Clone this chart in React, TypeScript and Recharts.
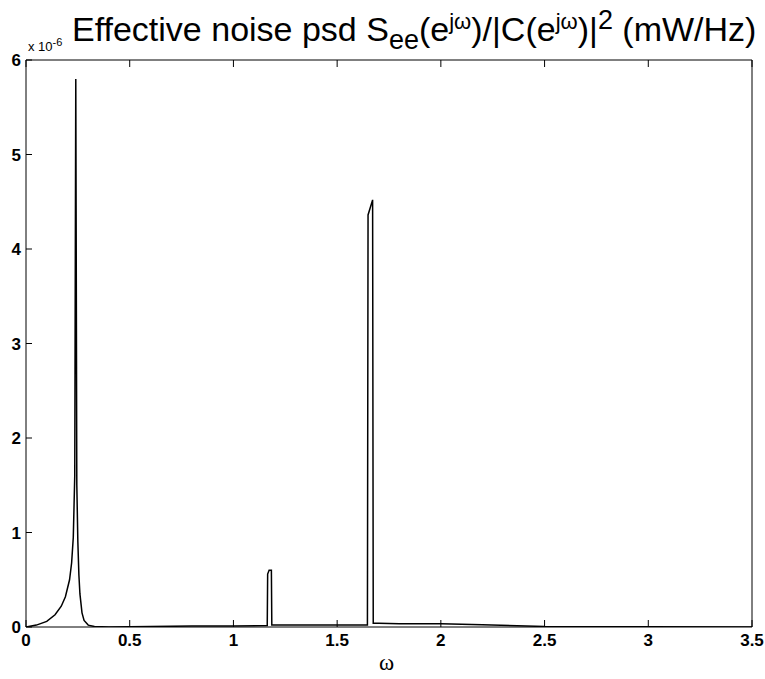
import { LineChart, Line, XAxis, YAxis } from "recharts";

// omega (rad/sample) and effective noise psd (x 1e-6 mW/Hz)
const omega = [
  0, 0.05, 0.1, 0.14, 0.17, 0.19, 0.21, 0.22, 0.228, 0.235, 0.24, 0.245, 0.25, 0.255, 0.26, 0.27, 0.28, 0.3, 0.33, 0.4,
  0.6, 0.8, 1.0, 1.163, 1.165, 1.172, 1.183, 1.185, 1.2, 1.4, 1.6, 1.646, 1.649, 1.671, 1.674, 1.7, 1.8, 2.0, 2.2, 2.5,
  3.0, 3.5,
];
const psd = [
  0, 0.02, 0.06, 0.13, 0.22, 0.32, 0.5, 0.68, 0.95, 1.6, 5.8, 1.5, 0.9, 0.55, 0.35, 0.15, 0.07, 0.02, 0.005, 0,
  0.005, 0.01, 0.01, 0.015, 0.56, 0.6, 0.6, 0.02, 0.02, 0.02, 0.02, 0.02, 4.36, 4.52, 0.04, 0.04, 0.035, 0.035, 0.025, 0.005,
  0.002, 0,
];
const xTicks = [0, 0.5, 1, 1.5, 2, 2.5, 3, 3.5];
const yTicks = [0, 1, 2, 3, 4, 5, 6];

const data = omega.map((w, i) => ({ w, v: psd[i] }));

const tickStyle = { fill: "#000", fontSize: 17, fontWeight: 600, fontFamily: "Liberation Sans, Arial, sans-serif" };

export default function App() {
  return (
    <div style={{ position: "absolute", left: 0, top: 0, width: 765, height: 679, background: "#fff" }}>
      <LineChart width={765} height={679} data={data} margin={{ top: 59, right: 12, left: 0, bottom: 0 }}>
        <XAxis
          dataKey="w"
          type="number"
          domain={[0, 3.5]}
          ticks={xTicks}
          tickSize={-7}
          tickMargin={14}
          height={52}
          stroke="#000"
          tick={tickStyle}
          xAxisId="b"
          allowDataOverflow
        />
        <XAxis
          dataKey="w"
          type="number"
          domain={[0, 3.5]}
          ticks={xTicks}
          orientation="top"
          tickSize={-7}
          tickFormatter={() => ""}
          height={1}
          stroke="#000"
          xAxisId="t"
        />
        <YAxis
          type="number"
          domain={[0, 6]}
          ticks={yTicks}
          tickSize={-6}
          tickMargin={11}
          width={26}
          stroke="#000"
          tick={tickStyle}
          yAxisId="l"
          allowDataOverflow
        />
        <YAxis
          type="number"
          domain={[0, 6]}
          ticks={yTicks}
          orientation="right"
          tickSize={-6}
          tickFormatter={() => ""}
          width={1}
          stroke="#000"
          yAxisId="r"
        />
        <Line
          xAxisId="b"
          yAxisId="l"
          dataKey="v"
          type="linear"
          stroke="#000"
          strokeWidth={1.5}
          dot={false}
          isAnimationActive={false}
        />
      </LineChart>
      <div
        style={{
          position: "absolute",
          left: 72,
          top: -2,
          fontFamily: "Liberation Sans, Arial, sans-serif",
          fontSize: 34,
          whiteSpace: "nowrap",
          color: "#000",
          lineHeight: "44px",
        }}
      >
        Effective noise psd S<sub style={{ fontSize: 27 }}>ee</sub>(e<sup style={{ fontSize: 22 }}>jω</sup>)/|C(e
        <sup style={{ fontSize: 22 }}>jω</sup>)|<sup style={{ fontSize: 27 }}>2</sup> (mW/Hz)
      </div>
      <div
        style={{
          position: "absolute",
          left: 28,
          top: 36,
          fontFamily: "Liberation Sans, Arial, sans-serif",
          fontSize: 13,
          whiteSpace: "nowrap",
        }}
      >
        x 10<sup style={{ fontSize: 11 }}>-6</sup>
      </div>
      <div
        style={{
          position: "absolute",
          left: 379,
          top: 650,
          fontFamily: "Liberation Serif, Times New Roman, serif",
          fontSize: 23,
        }}
      >
        ω
      </div>
    </div>
  );
}
